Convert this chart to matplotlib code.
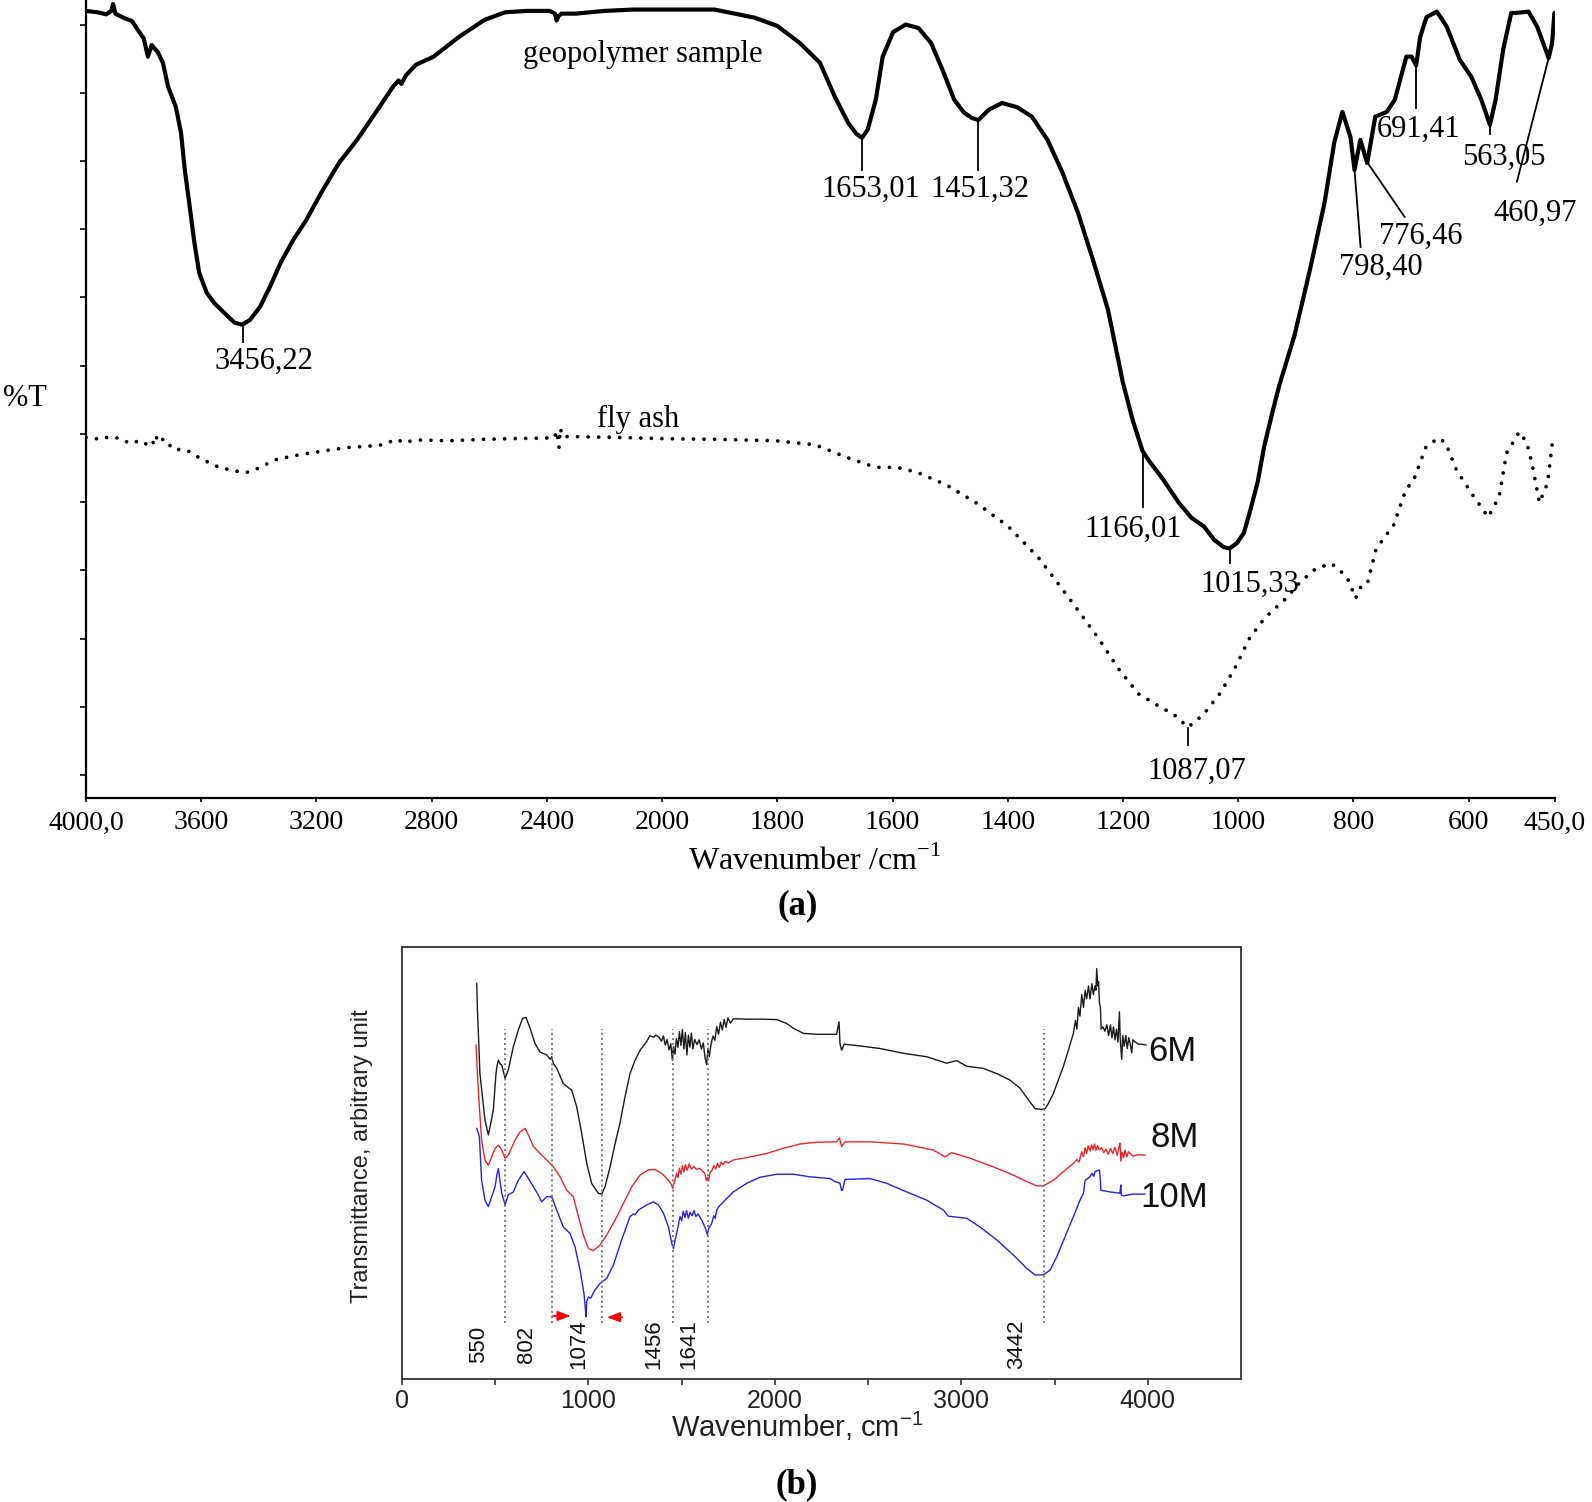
import numpy as np
import matplotlib
matplotlib.use("Agg")
import matplotlib.pyplot as plt

# ---------------- Panel (a) data: FTIR, %T (arbitrary) vs wavenumber ----------------
geo_wn = [4000, 3960, 3930, 3912, 3906, 3898, 3870, 3840, 3820, 3800, 3785, 3772, 3760, 3750,
          3733, 3715, 3688, 3670, 3657, 3643, 3625, 3607, 3581, 3555, 3519, 3484, 3458, 3431,
          3396, 3361, 3324, 3281, 3236, 3184, 3122, 3059, 2988, 2934, 2915, 2905, 2890, 2855,
          2793, 2705, 2616, 2545, 2470, 2390, 2372, 2366, 2360, 2350, 2300, 2200, 2100, 1909,
          1839, 1800, 1761, 1726, 1700, 1677, 1663, 1653, 1643, 1629, 1617, 1599, 1577, 1555,
          1533, 1511, 1493, 1476, 1462, 1451, 1433, 1410, 1384, 1358, 1331, 1305, 1278, 1252,
          1226, 1200, 1183, 1166, 1156, 1130, 1103, 1081, 1059, 1042, 1025, 1015, 1002, 990,
          978, 966, 955, 941, 929, 902, 875, 850, 833, 819, 805, 798, 788, 776, 762, 742, 728,
          708, 699, 691, 684, 673, 655, 638, 615, 595, 578, 563, 553, 540, 526, 518, 496, 481,
          461, 455, 451]
geo_T = [112.0, 111.8, 111.5, 112.0, 113.0, 111.6, 111.0, 110.5, 109.2, 108.0, 105.3, 107.0,
         106.4, 105.9, 104.4, 100.9, 97.9, 94.1, 88.7, 84.3, 78.4, 73.6, 70.7, 69.2, 67.7, 66.3,
         66.0, 66.7, 68.6, 71.6, 75.1, 78.4, 81.3, 85.3, 89.7, 93.1, 97.5, 100.9, 101.8, 101.3,
         102.5, 104.1, 105.3, 108.2, 110.7, 111.8, 112.0, 112.0, 111.6, 110.6, 111.2, 111.6,
         111.6, 112.0, 112.2, 112.2, 111.0, 109.8, 107.3, 104.4, 99.4, 95.6, 94.0, 93.4, 94.6,
         99.0, 105.3, 108.9, 110.0, 109.5, 107.3, 102.9, 99.0, 97.1, 96.3, 96.0, 97.5, 98.5,
         97.9, 96.5, 93.1, 88.3, 82.4, 75.5, 68.2, 57.5, 52.0, 47.5, 46.2, 43.3, 39.9, 37.7,
         36.4, 34.5, 33.4, 33.2, 34.0, 35.5, 39.1, 43.0, 48.1, 53.0, 57.0, 64.5, 74.2, 83.9,
         92.8, 97.2, 93.5, 88.7, 93.1, 89.7, 96.5, 97.2, 99.0, 105.3, 105.3, 104.0, 108.2,
         111.1, 111.9, 109.7, 104.8, 102.3, 99.0, 95.3, 99.0, 106.3, 111.7, 111.7, 111.9, 109.7,
         105.1, 107.3, 111.7]

fly_wn = [4000, 3947, 3920, 3876, 3850, 3822, 3800, 3780, 3769, 3760, 3745, 3734, 3715, 3698,
          3675, 3645, 3620, 3591, 3565, 3538, 3485, 3449, 3420, 3396, 3343, 3300, 3236, 3160,
          3094, 3020, 2970, 2935, 2917, 2900, 2881, 2840, 2739, 2620, 2526, 2400, 2375, 2365,
          2358, 2353, 2345, 2313, 2170, 1996, 1909, 1804, 1734, 1681, 1640, 1628, 1593, 1558,
          1506, 1453, 1400, 1348, 1295, 1243, 1208, 1173, 1138, 1112, 1087, 1060, 1032, 1006,
          980, 953, 918, 892, 866, 839, 827, 810, 796, 785, 775, 761, 745, 731, 709, 695, 674,
          652, 640, 621, 595, 566, 547, 534, 512, 499, 490, 477, 463, 455]
fly_T = [49.5, 49.2, 49.6, 49.3, 48.6, 48.9, 48.4, 48.8, 48.4, 49.8, 48.7, 49.2, 48.2, 48.4,
         47.6, 47.5, 46.8, 46.2, 45.6, 45.1, 44.6, 44.3, 44.6, 45.1, 46.2, 46.6, 47.1, 47.6,
         48.0, 48.2, 48.4, 49.0, 49.2, 48.7, 48.9, 49.1, 49.0, 49.2, 49.3, 49.4, 49.4, 50.4,
         48.0, 50.8, 49.6, 49.6, 49.5, 49.3, 49.2, 49.0, 48.4, 46.6, 45.4, 45.1, 45.1, 44.4,
         42.5, 39.8, 36.5, 32.0, 26.1, 20.1, 15.6, 11.9, 10.1, 8.9, 7.0, 8.9, 11.9, 15.6,
         20.1, 23.1, 25.8, 28.3, 30.2, 31.0, 30.3, 28.8, 25.9, 28.0, 28.3, 33.0, 35.0, 36.4,
         41.8, 43.3, 48.1, 49.4, 48.7, 44.7, 41.3, 37.8, 40.8, 47.2, 50.3, 48.7, 45.7, 39.9,
         42.8, 48.4]

a_xticks = [4000, 3600, 3200, 2800, 2400, 2000, 1800, 1600, 1400, 1200, 1000, 800, 600, 450]
a_xticklabels = ["4000,0", "3600", "3200", "2800", "2400", "2000", "1800", "1600", "1400",
                 "1200", "1000", "800", "600", "450,0"]
geo_peaks = ["3456,22", "1653,01", "1451,32", "1166,01", "1015,33", "798,40", "776,46",
             "691,41", "563,05", "460,97"]
fly_peaks = ["1087,07"]

# ---------------- Panel (b) data ----------------
m6_wn = [401, 404, 418, 445, 463, 476, 490, 504, 510, 517, 525, 535, 553, 570, 597, 624, 647, 665,
         687, 713, 740, 776, 795, 803, 812, 830, 865, 890, 910, 937, 964, 991, 1017, 1053, 1071,
         1089, 1116, 1143, 1169, 1196, 1223, 1250, 1277, 1312, 1330, 1348, 1362, 1375,
         1380, 1392, 1402, 1412, 1422, 1432, 1442, 1450, 1456, 1464, 1472, 1480, 1488, 1496,
         1504, 1512, 1520, 1528, 1536, 1544, 1552, 1560, 1570, 1582, 1594, 1606, 1616, 1626,
         1634, 1641, 1648, 1658, 1668, 1678, 1688, 1698, 1708, 1718, 1728, 1738, 1748, 1762,
         1777, 1849, 1920, 2010, 2063, 2099, 2153, 2224, 2331, 2344, 2349, 2358, 2371, 2457,
         2564, 2689, 2814, 2921, 2975, 3029, 3118, 3190, 3261, 3315, 3360, 3395, 3431, 3450,
         3467, 3494, 3520, 3547, 3574, 3601, 3612, 3620, 3628, 3636, 3646, 3655, 3664, 3672,
         3682, 3690, 3700, 3708, 3717, 3722, 3726, 3731, 3736, 3741, 3746, 3750, 3760, 3770,
         3780, 3790, 3800, 3808, 3816, 3824, 3832, 3840, 3848, 3852, 3860, 3866, 3874, 3882,
         3890, 3898, 3906, 3914, 3920, 3932, 3950, 3970, 3990]
m6_T = [91.6, 86.2, 70.7, 59.9, 56.5, 59.2, 62.3, 70.7, 72.5, 73.8, 73.0, 72.7, 69.6, 71.5, 76.9,
        80.8, 83.5, 83.7, 81.2, 77.7, 75.7, 75.0, 74.0, 74.6, 73.0, 71.9, 68.4, 67.5, 66.9, 63.0,
        56.8, 49.9, 45.3, 43.0, 42.8, 44.5, 49.1, 54.5, 59.2, 65.3, 70.7, 73.8, 76.1, 78.1, 79.5,
        79.1, 79.6, 79.2,
        79.0, 78.2, 79.4, 77.3, 78.6, 76.2, 77.6, 73.8, 76.9, 75.2, 78.8, 76.8, 80.4, 77.2,
        80.9, 76.4, 80.2, 75.0, 79.6, 76.8, 80.1, 76.4, 78.6, 77.4, 78.5, 76.4, 77.8, 74.2,
        72.8, 76.6, 74.6, 77.6, 79.4, 78.4, 81.6, 79.8, 82.6, 80.8, 83.2, 81.4, 83.6, 82.4,
        83.4, 83.3, 83.3, 83.2, 82.3, 81.2, 80.0, 79.8, 79.8, 82.7, 77.7, 76.1, 77.5, 77.1,
        76.5, 75.4, 74.6, 73.1, 73.7, 72.4, 71.9, 70.7, 69.2, 67.3, 64.6, 62.6, 62.4, 62.6,
        63.8, 66.1, 69.2, 72.3, 76.1, 80.0, 83.0, 81.0, 86.0, 84.0, 89.0, 86.0, 90.0, 88.0,
        91.0, 88.0, 91.5, 89.0, 91.0, 90.0, 95.0, 91.0, 92.0, 87.0, 86.0, 81.0, 81.5, 80.5,
        82.0, 79.5, 82.0, 79.0, 81.5, 78.5, 81.0, 78.0, 85.0, 79.0, 74.0, 79.5, 77.0, 79.5,
        76.5, 79.0, 77.5, 75.5, 78.5, 78.0, 77.5, 77.5, 77.3]

m8_wn = [397, 409, 427, 445, 463, 481, 499, 517, 535, 553, 570, 606, 633, 660, 678, 705, 740, 776,
         812, 848, 883, 919, 946, 973, 1000, 1026, 1062, 1098, 1143, 1187, 1232, 1277, 1321, 1357,
         1393, 1429, 1445, 1452, 1460, 1473, 1480, 1488, 1496, 1504, 1512, 1520, 1530, 1540,
         1552, 1565, 1580, 1595, 1610, 1625, 1632, 1638, 1645, 1652, 1662, 1672, 1682, 1692,
         1702, 1712, 1722, 1735, 1750, 1777, 1867, 1956, 2045, 2135, 2224, 2331, 2346, 2358,
         2376, 2510, 2689, 2850, 2913, 2948, 3047, 3172, 3279, 3351, 3404, 3440, 3494, 3547,
         3601, 3620, 3632, 3645, 3655, 3664, 3672, 3680, 3690, 3698, 3706, 3714, 3722, 3730,
         3740, 3752, 3764, 3776, 3788, 3800, 3812, 3824, 3836, 3846, 3851, 3856, 3862, 3870,
         3878, 3887, 3896, 3905, 3920, 3950, 3985]
m8_T = [77.3, 66.9, 55.3, 50.7, 49.5, 51.4, 53.4, 54.1, 53.0, 51.1, 51.8, 55.3, 57.2, 58.0, 56.5,
        53.8, 52.2, 50.7, 49.1, 46.8, 43.7, 42.2, 37.6, 33.3, 30.2, 29.7, 31.0, 33.3, 36.8, 40.6,
        44.5, 47.2, 48.4, 48.5, 47.6, 46.0, 45.0, 44.1, 45.5, 47.6, 46.6, 48.8, 47.4, 49.4, 47.9,
        49.6, 48.3, 49.8, 48.6, 49.2, 48.5, 48.8, 48.2, 47.5, 46.0, 46.6, 45.9, 47.8, 48.2, 49.4,
        48.6, 49.9, 49.0, 50.2, 49.6, 50.4, 50.0, 50.7, 51.4, 52.2, 53.4, 54.4, 54.8, 54.9, 55.8,
        53.8, 54.9, 54.9, 54.4, 53.0, 51.4, 52.4, 51.1, 49.1, 47.2, 45.7, 44.7, 44.7, 46.0, 48.0,
        49.9, 50.8, 50.2, 52.6, 51.5, 53.5, 52.2, 54.0, 52.8, 54.2, 53.0, 54.4, 52.9, 54.0, 53.0,
        53.6, 52.4, 53.2, 52.0, 53.4, 52.2, 53.6, 51.8, 53.8, 54.6, 50.4, 52.5, 51.2, 53.0, 51.4,
        52.6, 52.2, 51.6, 51.9, 51.8]

m10_wn = [401, 415, 427, 445, 463, 481, 499, 510, 517, 525, 535, 553, 570, 597, 624, 655, 678, 705,
          731, 749, 776, 803, 830, 865, 901, 928, 955, 976, 983, 987, 991, 1000, 1012, 1035, 1062,
          1098, 1134, 1178, 1223, 1240, 1250, 1268, 1312, 1348, 1375, 1402, 1429, 1447, 1456,
          1464, 1473, 1491, 1500, 1508, 1518, 1526, 1536, 1545, 1556, 1566, 1576, 1588, 1599,
          1610, 1620, 1630, 1638, 1646, 1654, 1661, 1672, 1680, 1688, 1698, 1710, 1720, 1733,
          1777, 1849, 1920, 2010, 2099, 2188, 2296, 2322, 2349, 2358, 2364, 2376, 2510, 2600,
          2707, 2814, 2904, 2930, 3029, 3100, 3190, 3279, 3351, 3395, 3440, 3476, 3512, 3556,
          3601, 3637, 3655, 3664, 3690, 3700, 3710, 3717, 3741, 3746, 3748, 3798, 3851, 3855,
          3858, 3869, 3920, 3985]
m10_T = [58.0, 56.1, 46.0, 41.4, 39.9, 42.2, 44.5, 47.5, 48.7, 46.0, 43.0, 40.3, 42.6, 43.3, 46.0,
         48.0, 46.4, 44.5, 42.6, 41.0, 42.2, 42.2, 39.1, 35.2, 33.7, 30.6, 25.2, 19.8, 16.5, 14.4,
         18.0, 19.0, 18.7, 20.6, 22.1, 23.3, 26.4, 32.2, 37.6, 38.2, 38.0, 39.1, 40.3, 41.0, 40.3,
         38.4, 35.2, 31.4, 30.2, 32.0, 33.7, 37.6, 36.6, 38.8, 37.4, 39.0, 37.2, 38.6, 37.8, 39.0,
         37.6, 38.2, 37.4, 36.6, 35.6, 34.6, 33.4, 35.0, 35.4, 36.0, 37.8, 37.2, 39.1, 39.8, 40.4,
         40.8, 41.4, 43.3, 45.3, 46.7, 47.4, 47.4, 46.8, 46.4, 45.7, 45.3, 43.6, 43.9, 46.2, 46.4,
         45.3, 43.3, 41.4, 39.1, 37.7, 37.2, 35.2, 32.2, 28.7, 25.6, 24.1, 24.1, 25.2, 28.3, 32.9,
         37.6, 41.4, 43.0, 46.0, 46.8, 47.6, 46.9, 48.0, 48.4, 46.0, 43.7, 43.3, 43.0, 44.9, 42.6,
         42.4, 42.8, 42.8]

b_band_wn = [550, 802, 1074, 1456, 1641, 3442]
b_band_labels = ["550", "802", "1074", "1456", "1641", "3442"]
b_series_labels = ["6M", "8M", "10M"]
b_xticks = [0, 1000, 2000, 3000, 4000]

# ---------------- figure ----------------
W, H = 1592, 1502
fig = plt.figure(figsize=(W / 100, H / 100), dpi=100)

SERIF = ["Liberation Serif", "DejaVu Serif"]
SANS = ["Liberation Sans", "DejaVu Sans"]

def fx(px):
    return px / W

def fy(py):
    return 1 - py / H

# ---- panel (a) ----
axa = fig.add_axes([fx(86), fy(798), fx(1555 - 86), 798 / H])

def fwd(x):
    x = np.asarray(x, dtype=float)
    return np.where(x >= 2000, 2000 + (x - 2000) / 2.0, x)

def inv(f):
    f = np.asarray(f, dtype=float)
    return np.where(f >= 2000, 2000 + 2.0 * (f - 2000), f)

axa.set_xscale("function", functions=(fwd, inv))
axa.plot(geo_wn, geo_T, color="black", lw=3.0, solid_joinstyle="round", solid_capstyle="round")
axa.plot(fly_wn, fly_T, color="black", lw=2.7, linestyle=(0, (0.01, 2.8)),
         dash_capstyle="round")
axa.set_xlim(4000, 450)
axa.set_ylim(-3.37, 113.6)
axa.set_xticks(a_xticks)
axa.set_xticklabels(a_xticklabels, fontfamily=SERIF, fontsize=20)
axa.set_yticks(np.arange(0, 111, 10))
axa.set_yticklabels([])
axa.xaxis.set_minor_locator(matplotlib.ticker.NullLocator())
axa.tick_params(axis="x", direction="out", length=3, width=1.2, pad=6)
axa.tick_params(axis="y", direction="out", length=4.5, width=1.2)
for s in ["top", "right"]:
    axa.spines[s].set_visible(False)
for s in ["left", "bottom"]:
    axa.spines[s].set_linewidth(1.6)
axa.patch.set_alpha(0)

# annotation layout: (line start, line end, text baseline point) in data coords
a_layout = {
    "3456,22": ((3456, 66.0), (3456, 63.5), (3382, 59.6)),
    "1653,01": ((1653, 93.4), (1653, 88.7), (1638, 84.7)),
    "1451,32": ((1451, 96.0), (1451, 88.7), (1449, 84.7)),
    "1166,01": ((1166, 47.5), (1166, 39.3), (1182, 34.9)),
    "1015,33": ((1015, 33.2), (1015, 31.1), (980, 26.8)),
    "798,40": ((798, 88.7), (787.5, 77.4), (752, 73.3)),
    "776,46": ((775, 89.7), (711, 81.8), (683, 77.9)),
    "691,41": ((691, 104.0), (691, 97.8), (687, 93.5)),
    "563,05": ((563, 95.3), (563, 94.0), (538, 89.5)),
    "460,97": ((461, 105.1), (516, 87.0), (485, 81.3)),
    "1087,07": ((1087, 6.9), (1087, 4.4), (1072, -0.5)),
}
for lab in geo_peaks + fly_peaks:
    p0, p1, pt = a_layout[lab]
    axa.plot([p0[0], p1[0]], [p0[1], p1[1]], color="black", lw=1.3)
    axa.text(pt[0], pt[1], lab, ha="center", va="baseline", fontsize=22,
             fontfamily=SERIF, clip_on=False)

axa.text(2066, 104.5, "geopolymer sample", ha="center", va="baseline", fontsize=22,
         fontfamily=SERIF)
axa.text(2084, 51.0, "fly ash", ha="center", va="baseline", fontsize=22, fontfamily=SERIF)

fig.text(fx(25), fy(398), "%T", ha="center", va="center", fontsize=22, fontfamily=SERIF)
fig.text(fx(815), fy(870), r"Wavenumber /cm$^{\mathregular{-1}}$", ha="center", va="baseline",
         fontsize=23, fontfamily=SERIF)
fig.text(fx(798), fy(906), "(a)", ha="center", va="center", fontsize=25, fontweight="bold",
         fontfamily=SERIF)

# ---- panel (b) ----
axb = fig.add_axes([fx(402), fy(1379), fx(1241 - 402), 432 / H])
colors = ["#1a1a1a", "#e8262a", "#2323e0"]
for wn, T, c in [(m6_wn, m6_T, colors[0]), (m8_wn, m8_T, colors[1]), (m10_wn, m10_T, colors[2])]:
    axb.plot(wn, T, color=c, lw=1.0)
for w in b_band_wn:
    axb.plot([w, w], [13.0, 81.0], color="#7a7a7a", lw=1.4, linestyle=(0, (1, 1.6)))

b_label_layout = {"550": 409, "802": 669, "1074": 946, "1456": 1352, "1641": 1540, "3442": 3298}
for lab in b_band_labels:
    axb.text(b_label_layout[lab], 8.1, lab, rotation=90, ha="center", va="center",
             fontsize=16, fontfamily=SANS, color="#111111")

series_pos = {"6M": (4002, 75.9), "8M": (4013, 56.0), "10M": (3959, 42.1)}
for lab in b_series_labels:
    x, y = series_pos[lab]
    axb.text(x, y, lab, ha="left", va="center", fontsize=25, fontfamily=SANS, color="#111111")

# red arrows
axb.annotate("", xy=(920, 14.6), xytext=(794, 14.6),
             arrowprops=dict(arrowstyle="-|>,head_length=0.8,head_width=0.3", color="red", lw=1.2))
axb.annotate("", xy=(1084, 14.3), xytext=(1196, 14.3),
             arrowprops=dict(arrowstyle="-|>,head_length=0.8,head_width=0.3", color="red", lw=1.2))

axb.set_xlim(0, 4500)
axb.set_ylim(0, 100)
axb.set_xticks(b_xticks)
axb.set_xticklabels([str(t) for t in b_xticks], fontfamily=SANS, fontsize=18, color="#222222")
axb.set_xticks(np.arange(500, 4500, 1000), minor=True)
axb.set_yticks([])
axb.tick_params(axis="x", which="both", direction="out", length=4, width=1.2, pad=3,
                colors="#333333", labelcolor="#222222")
for s in axb.spines.values():
    s.set_linewidth(1.3)
    s.set_color("#333333")

fig.text(fx(362), fy(1156), "Transmittance, arbitrary unit", rotation=90, ha="center",
         va="center", fontsize=17, fontfamily=SANS, color="#222222")
fig.text(fx(797), fy(1437), r"Wavenumber, cm$^{\mathregular{-1}}$", ha="center", va="baseline",
         fontsize=21, fontfamily=SANS, color="#222222")
fig.text(fx(797), fy(1485), "(b)", ha="center", va="center", fontsize=25, fontweight="bold",
         fontfamily=SERIF)

fig.savefig("out.png", dpi=100)
